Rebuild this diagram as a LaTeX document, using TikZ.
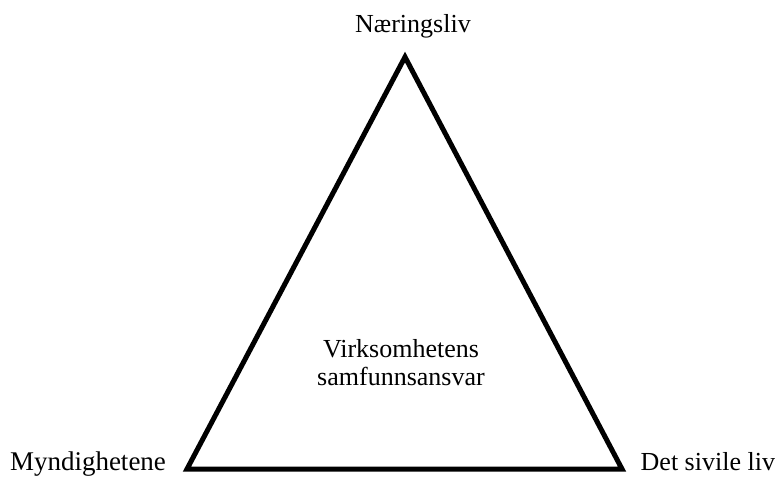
\documentclass[tikz,border=0pt]{standalone}
\usepackage{fontspec}
\setmainfont{Liberation Serif}
\begin{document}
\begin{tikzpicture}[x=1pt,y=-1pt,
  lbl/.style={inner sep=0pt,outer sep=0pt,font=\fontsize{26}{28}\selectfont},
  tri/.style={line width=5pt,line join=miter}]
\useasboundingbox (0,0) rectangle (781,477);
\coordinate (top) at (405,57);
\coordinate (bl) at (187,469);
\coordinate (br) at (622,469);
\draw[tri] (top) -- (bl) -- (br) -- cycle;
\node[lbl,anchor=base] (n) at (413,32) {Næringsliv};
\node[lbl,anchor=base west,font=\fontsize{27}{30}\selectfont] (m) at (10,470) {Myndighetene};
\node[lbl,anchor=base east] (d) at (775,470) {Det sivile liv};
\node[lbl,anchor=base] (v1) at (401,357) {Virksomhetens};
\node[lbl,anchor=base] (v2) at (401,385) {samfunnsansvar};
\end{tikzpicture}
\end{document}
